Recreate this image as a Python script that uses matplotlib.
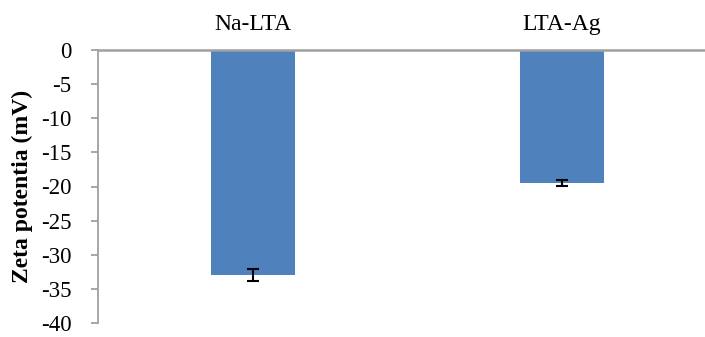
import matplotlib
matplotlib.use("Agg")
import matplotlib.pyplot as plt

categories = ["Na-LTA", "LTA-Ag"]
zeta_mv = [-33.0, -19.5]
zeta_err = [0.85, 0.4]
y_ticks = [0, -5, -10, -15, -20, -25, -30, -35, -40]

plt.rcParams["font.family"] = ["Liberation Serif", "DejaVu Serif"]

W, H = 705, 337
fig = plt.figure(figsize=(W / 100, H / 100), dpi=100)
ax = fig.add_axes([98 / W, 14 / H, (W - 98) / W, (323 - 50) / H])

x = list(range(len(categories)))
ax.bar(x, zeta_mv, width=0.27, color="#4F81BD", zorder=2)
ax.errorbar(x, zeta_mv, yerr=zeta_err, fmt="none", ecolor="black",
            elinewidth=1.5, capsize=4.3, capthick=1.5, zorder=3)

ax.set_xlim(-0.5016, 1.463)
ax.set_ylim(-40, 0)
ax.set_yticks(y_ticks)
ax.set_yticklabels([str(v) for v in y_ticks], fontsize=16.5)

ax.xaxis.tick_top()
ax.set_xticks(x)
ax.set_xticklabels(categories, fontsize=17)
ax.tick_params(axis="x", length=0, pad=11)
ax.tick_params(axis="y", length=5, width=1.3, color="#A0A0A0", pad=14)

for side in ("right", "bottom"):
    ax.spines[side].set_visible(False)
ax.spines["left"].set_color("#A0A0A0")
ax.spines["left"].set_linewidth(1.3)
ax.spines["top"].set_color("#A0A0A0")
ax.spines["top"].set_linewidth(1.8)

ax.set_ylabel("Zeta potentia (mV)", fontsize=17, fontweight="bold")
ax.yaxis.set_label_coords(-0.107, 0.5)

fig.savefig("out.png", dpi=100)
